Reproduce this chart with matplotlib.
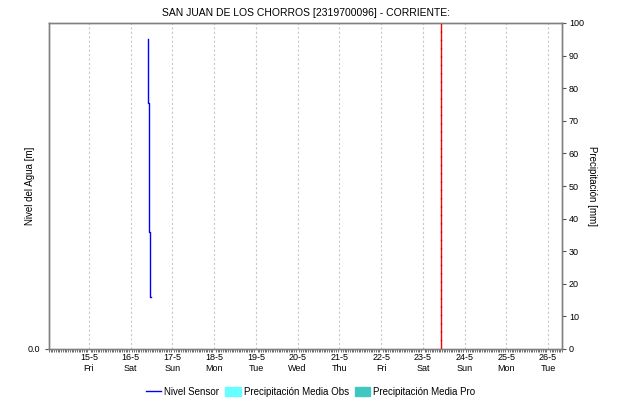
import datetime as dt
import matplotlib
matplotlib.use("Agg")
import matplotlib.pyplot as plt
import matplotlib.dates as mdates
from matplotlib.lines import Line2D
from matplotlib.patches import Patch

plt.rcParams['font.family'] = ['Liberation Sans', 'DejaVu Sans']

# sensor level readings (16-5)
nivel_time = ["2023-05-16 09:50", "2023-05-16 09:50", "2023-05-16 10:20", "2023-05-16 10:20",
              "2023-05-16 10:55", "2023-05-16 10:55", "2023-05-16 11:55"]
nivel_vals = [0.951, 0.755, 0.755, 0.359, 0.359, 0.16, 0.16]
now_time = "2023-05-23 10:30"

day_ticks = ["2023-05-%02d" % d for d in range(15, 27)]
day_names = ["Fri", "Sat", "Sun", "Mon", "Tue", "Wed", "Thu", "Fri", "Sat", "Sun", "Mon", "Tue"]
x_start, x_end = "2023-05-14 01:00", "2023-05-26 08:00"

to_dt = lambda s: dt.datetime.strptime(s, "%Y-%m-%d %H:%M") if " " in s else dt.datetime.strptime(s, "%Y-%m-%d")

fig = plt.figure(figsize=(6.21, 4.03), dpi=100)
ax = fig.add_axes([49/621, 1-349/403, (562-49)/621, (349-23)/403])
ax2 = ax.twinx()

tx = [to_dt(t) for t in nivel_time]
ax.plot(tx, nivel_vals, color='#0000ff', lw=1.0)

ax.axvline(to_dt(now_time), color='#ff0000', lw=1.0)
ax.axvline(to_dt(now_time), color='#800000', lw=1.0, ls=(0, (1, 5)), alpha=0.6)

ticks = [to_dt(t) for t in day_ticks]
ax.set_xticks(ticks)
ax.set_xticklabels([f"{t.day}-{t.month}\n{n}" for t, n in zip(ticks, day_names)], fontsize=6.5)
ax.xaxis.set_minor_locator(mdates.HourLocator())
ax.tick_params(axis='x', which='minor', length=2, color='#555555', width=0.6)
ax.tick_params(axis='x', which='major', length=0, pad=3)
ax.set_xlim(to_dt(x_start), to_dt(x_end))
ax.grid(axis='x', color='#c8c8c8', ls=(0, (2, 2)), lw=0.8)

ax.set_ylim(0, 1)
ax.set_yticks([0])
ax.set_yticklabels(["0.0"], fontsize=6.5)
ax.tick_params(axis='y', length=3, color='#555555')
ax.set_ylabel("Nivel del Agua [m]", fontsize=7, va='center')
ax.yaxis.set_label_coords(-0.037, 0.5)

ax2.set_ylim(0, 100)
ax2.set_yticks(range(0, 101, 10))
ax2.tick_params(axis='y', labelsize=6.5, length=3, color='#555555', pad=2)
ax2.set_ylabel("Precipitación [mm]", fontsize=7, rotation=270, va='center')
ax2.yaxis.set_label_coords(1.058, 0.5)

for a in (ax, ax2):
    for s in a.spines.values():
        s.set_color('#808080')
        s.set_linewidth(1.0)
ax.spines['bottom'].set_color('#a0a0a0')

ax.set_title("SAN JUAN DE LOS CHORROS [2319700096] - CORRIENTE:", fontsize=7.5, pad=5)

handles = [Line2D([], [], color='#0000ff', lw=1.0),
           Patch(color='#66ffff'), Patch(color='#40c8c0')]
labels = ["Nivel Sensor", "Precipitación Media Obs", "Precipitación Media Pro"]
fig.legend(handles, labels, loc='center', bbox_to_anchor=(0.5, 1-392/403), ncol=3,
           frameon=False, fontsize=7, handlelength=1.6, handletextpad=0.3,
           columnspacing=0.6, handleheight=1.0)

fig.savefig("out.png", dpi=100)
